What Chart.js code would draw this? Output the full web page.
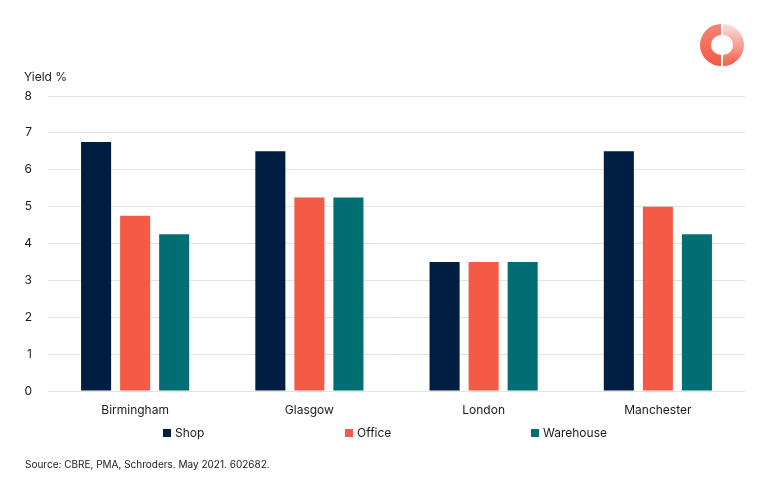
<!DOCTYPE html>
<html>
<head>
<meta charset="utf-8">
<script src="https://cdn.jsdelivr.net/npm/chart.js@4"></script>
<style>
  body { margin: 0; background: #fff; font-family: Inter, "Noto Sans", sans-serif; }
  #wrap { position: relative; width: 770px; height: 493px; }
  #title { position: absolute; left: 24px; top: 69px; font-size: 12px; color: #1a1a1a; }
  #source { position: absolute; left: 25px; top: 458px; font-size: 10px; color: #1a1a1a; }
  .leg { position: absolute; top: 425px; font-size: 12px; color: #1a1a1a; white-space: nowrap; }
  .leg span { display: inline-block; width: 8px; height: 8px; margin-right: 4px; vertical-align: 0px; }
  #logo { position: absolute; left: 698px; top: 21px; }
</style>
</head>
<body>
<div id="wrap">
  <canvas id="myChart" width="770" height="493"></canvas>
  <div id="title">Yield %</div>
  <div id="source">Source: CBRE, PMA, Schroders. May 2021. 602682.</div>
  <canvas id="logo" width="48" height="48"></canvas>
</div>
<script>
var cities = ["Birmingham", "Glasgow", "London", "Manchester"];
var shop = [6.75, 6.5, 3.5, 6.5];
var office = [4.75, 5.25, 3.5, 5];
var warehouse = [4.25, 5.25, 3.5, 4.25];
var yTicks = [0, 1, 2, 3, 4, 5, 6, 7, 8];

var seriesNames = ["Shop", "Office", "Warehouse"];
var seriesColors = ["#001e41", "#f55a46", "#006e73"];
var legendLeft = [163, 345, 531];

var ctx = document.getElementById("myChart").getContext('2d');

var myChart = new Chart(ctx, {
    type: 'bar',
    data: {
        labels: cities,
        datasets: [shop, office, warehouse].map(function (vals, i) {
            return {
                label: seriesNames[i],
                data: vals,
                backgroundColor: seriesColors[i],
                borderWidth: 0,
                categoryPercentage: 0.672,
                barPercentage: 0.77
            };
        })
    },
    options: {
        responsive: false,
        animation: false,
        layout: { padding: { top: 96, right: 25, bottom: 72, left: 0 } },
        plugins: { legend: { display: false }, tooltip: { enabled: false } },
        scales: {
            x: {
                grid: { display: false },
                border: { display: false },
                ticks: { color: "#1a1a1a", font: { family: "Inter", size: 12 }, padding: 4 },
                afterFit: function (s) { s.height = 30; }
            },
            y: {
                min: 0,
                max: 8,
                afterBuildTicks: function (s) { s.ticks = yTicks.map(function (v) { return { value: v }; }); },
                grid: { color: "#e3e3e3", drawTicks: false },
                border: { display: false },
                ticks: { color: "#1a1a1a", font: { family: "Inter", size: 12 }, padding: 16 },
                afterFit: function (s) { s.width = 48; }
            }
        }
    }
});

// html legend
var wrap = document.getElementById("wrap");
seriesNames.forEach(function (name, i) {
    var d = document.createElement("div");
    d.className = "leg";
    d.style.left = legendLeft[i] + "px";
    d.innerHTML = '<span style="background:' + seriesColors[i] + '"></span>' + name;
    wrap.appendChild(d);
});

// logo ring
var lc = document.getElementById("logo").getContext('2d');
var cx = 24, cy = 24, ro = 21, ri = 10;
var g1 = lc.createLinearGradient(0, 48, 0, 0);
g1.addColorStop(0, "#f2553f");
g1.addColorStop(1, "#f7887a");
lc.fillStyle = g1;
lc.beginPath();
lc.arc(cx - 1, cy, ro, Math.PI / 2, Math.PI * 1.5);
lc.arc(cx - 1, cy, ri, Math.PI * 1.5, Math.PI / 2, true);
lc.closePath();
lc.fill();
var g2 = lc.createLinearGradient(0, 0, 0, 48);
g2.addColorStop(0, "#fdeae7");
g2.addColorStop(1, "#f2553f");
lc.fillStyle = g2;
lc.beginPath();
lc.arc(cx + 1, cy, ro, -Math.PI / 2, Math.PI / 2);
lc.arc(cx + 1, cy, ri, Math.PI / 2, -Math.PI / 2, true);
lc.closePath();
lc.fill();
</script>
</body>
</html>
